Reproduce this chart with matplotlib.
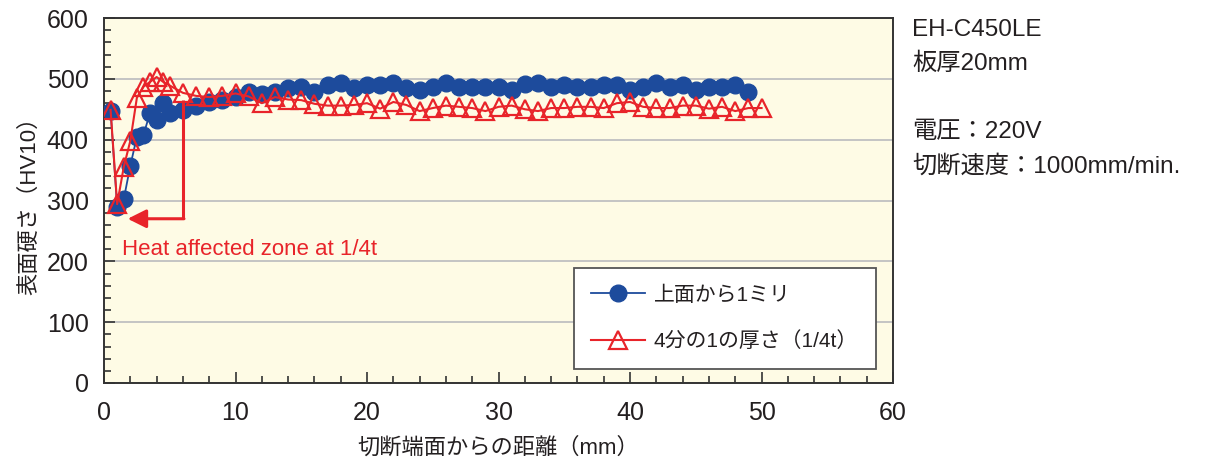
import matplotlib
matplotlib.use("Agg")
import matplotlib.pyplot as plt
from matplotlib.ticker import MultipleLocator

# Latin text in an Arial-like face, Japanese falls back to Noto CJK
plt.rcParams["font.family"] = ["Liberation Sans", "Noto Sans CJK JP"]

# Hardness profile, 1 mm below the top surface
top_x = [0.5, 1.0, 1.5, 2.0, 2.5, 3.0, 3.5, 4.0, 4.5, 5.0] + list(range(6, 50))
top_hv = [447, 290, 302, 357, 405, 408, 444, 432, 460, 444,
          449, 456, 462, 466, 470, 479, 475, 478, 485, 487,
          479, 490, 493, 485, 490, 490, 493, 485, 482, 487,
          493, 487, 487, 487, 487, 482, 491, 493, 487, 490,
          487, 487, 490, 490, 482, 487, 493, 487, 490, 482,
          487, 487, 490, 479]

# Hardness profile at quarter thickness
qt_x = [0.5, 1.0, 1.5, 2.0, 2.5, 3.0, 3.5, 4.0, 4.5, 5.0] + list(range(6, 51))
qt_hv = [449, 294, 355, 398, 469, 487, 495, 503, 495, 489,
         477, 472, 470, 472, 476, 471, 460, 470, 466, 465,
         459, 456, 456, 457, 460, 451, 462, 457, 447, 452,
         456, 454, 452, 447, 454, 456, 450, 447, 452, 452,
         454, 454, 452, 460, 462, 454, 452, 452, 456, 456,
         451, 454, 447, 452, 452]

# Heat affected zone marker (quarter thickness)
haz_x = [6, 6]
haz_y = [465, 270]
haz_tip_x = 1.8

series_labels = ["上面から1ミリ", "4分の1の厚さ（1/4t）"]
spec_lines = ["EH-C450LE", "板厚20mm", "", "電圧：220V", "切断速度：1000mm/min."]

blue = "#1d4b9c"
red = "#e8242a"
text_color = "#231f20"

fig = plt.figure(figsize=(12.08, 4.62), dpi=100)
ax = fig.add_axes([0.0861, 0.171, 0.6532, 0.790])
ax.set_facecolor("#fefbe5")

ax.plot(top_x, top_hv, color=blue, lw=1.3, marker="o", ms=12,
        mfc=blue, mec=blue, label=series_labels[0], zorder=3)
ax.plot(qt_x, qt_hv, color=red, lw=1.5, marker="^", ms=13,
        mfc="none", mec=red, mew=1.6, label=series_labels[1], zorder=4)

# HAZ bracket with arrow
ax.plot(haz_x, haz_y, color=red, lw=2.2, zorder=5, solid_capstyle="butt")
ax.annotate("", xy=(haz_tip_x, haz_y[1]), xytext=(haz_x[1] + 0.08, haz_y[1]),
            arrowprops=dict(arrowstyle="-|>", color=red, lw=2.2,
                            mutation_scale=28, shrinkA=0, shrinkB=0),
            zorder=5)
ax.text(1.35, 219, "Heat affected zone at 1/4t", color=red, fontsize=16,
        va="center", ha="left")

ax.set_xlim(0, 60)
ax.set_ylim(0, 600)
ax.xaxis.set_major_locator(MultipleLocator(10))
ax.xaxis.set_minor_locator(MultipleLocator(2))
ax.yaxis.set_major_locator(MultipleLocator(100))
ax.yaxis.set_minor_locator(MultipleLocator(20))
ax.tick_params(which="both", direction="in", color="#333333", width=1.2,
               labelsize=18, labelcolor=text_color)
ax.tick_params(which="major", length=8)
ax.tick_params(which="minor", length=5)
ax.tick_params(axis="x", which="major", pad=13)
ax.tick_params(axis="y", which="major", pad=11)
ax.grid(axis="y", which="major", color="#c4c4c4", lw=1.4, zorder=0)
for side in ax.spines.values():
    side.set_color("#333333")
    side.set_linewidth(1.4)

ax.set_xlabel("切断端面からの距離（mm）", fontsize=16, color=text_color, labelpad=9)
ax.set_ylabel("表面硬さ（HV10）", fontsize=16, color=text_color, labelpad=5)

leg = ax.legend(loc="lower right", bbox_to_anchor=(0.978, 0.038),
                borderaxespad=0, fontsize=15, frameon=True, fancybox=False,
                handlelength=2.6, labelspacing=1.3, borderpad=0.85,
                handletextpad=0.4, framealpha=1)
leg.get_frame().set_edgecolor("#555555")
leg.get_frame().set_linewidth(1.3)
for t in leg.get_texts():
    t.set_color(text_color)

y0 = 0.935
for i, line in enumerate(spec_lines):
    fig.text(0.755, y0 - i * 0.0736, line, fontsize=17.5, color=text_color,
             va="center", ha="left")

fig.savefig("out.png", dpi=100)
